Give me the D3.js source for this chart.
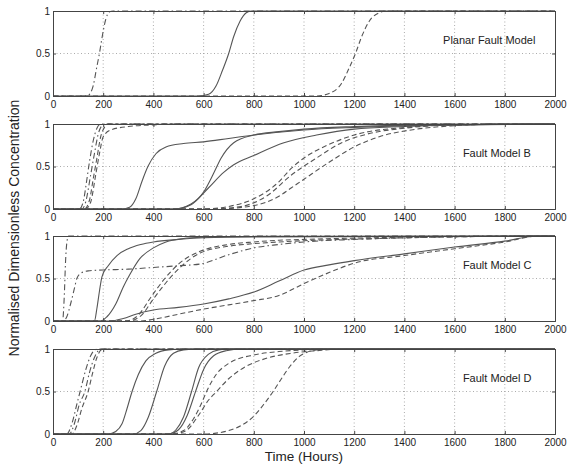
<!DOCTYPE html>
<html>
<head>
<meta charset="utf-8">
<script src="https://cdn.jsdelivr.net/npm/d3@7/dist/d3.min.js"></script>
<style>
  body { margin: 0; background: #fff; }
  svg { display: block; }
  text { font-family: "Liberation Sans", Arial, sans-serif; fill: #222; }
</style>
</head>
<body>
<div id="chart"></div>
<script>
// Axis ticks shared by all four panels
const xTicks = [0, 200, 400, 600, 800, 1000, 1200, 1400, 1600, 1800, 2000];
const yTicks = [0, 0.5, 1];
const panelTitles = ["Planar Fault Model", "Fault Model B", "Fault Model C", "Fault Model D"];

// Breakthrough curves: [time (hours), normalised concentration]
// Planar fault model
const planarDashDot = [[0,0],[120,0],[140,0.01],[160,0.12],[175,0.35],[185,0.5],[195,0.68],[210,0.9],[225,0.99],[240,1],[2000,1]];
const planarSolid   = [[0,0],[580,0],[620,0.02],[650,0.12],[675,0.3],[700,0.5],[720,0.7],[745,0.88],[770,0.98],[790,1],[2000,1]];
const planarDashed  = [[0,0],[1050,0],[1100,0.03],[1150,0.15],[1180,0.33],[1205,0.5],[1230,0.7],[1260,0.88],[1300,0.98],[1330,1],[2000,1]];

// Fault model B
const bDashDot1 = [[0,0],[105,0],[120,0.08],[135,0.35],[145,0.55],[160,0.8],[175,0.95],[190,1],[2000,1]];
const bDashDot2 = [[0,0],[115,0],[130,0.08],[150,0.4],[165,0.65],[180,0.88],[195,0.98],[210,1],[2000,1]];
const bDashed1  = [[0,0],[125,0],[145,0.1],[160,0.35],[175,0.6],[190,0.85],[205,0.96],[220,1],[2000,1]];
const bDashed2  = [[0,0],[130,0],[150,0.08],[170,0.4],[185,0.65],[200,0.85],[230,0.93],[300,0.97],[400,0.99],[500,1],[2000,1]];
const bSolid1   = [[0,0],[275,0],[305,0.02],[330,0.12],[355,0.33],[378,0.5],[410,0.65],[450,0.73],[520,0.77],[600,0.79],[700,0.83],[800,0.87],[1000,0.93],[1200,0.96],[1400,0.98],[1600,0.99],[2000,1]];
const bSolid2   = [[0,0],[480,0],[550,0.06],[600,0.2],[640,0.42],[670,0.6],[720,0.78],[800,0.87],[900,0.91],[1000,0.94],[1200,0.97],[1500,0.99],[2000,1]];
const bSolid3   = [[0,0],[480,0],[550,0.05],[620,0.25],[680,0.43],[720,0.52],[800,0.63],[920,0.78],[1050,0.87],[1200,0.94],[1400,0.97],[1600,0.99],[2000,1]];
const bDashed3  = [[0,0],[600,0],[700,0.03],[800,0.12],[900,0.32],[950,0.48],[1000,0.6],[1100,0.76],[1200,0.87],[1400,0.96],[1600,0.99],[2000,1]];
const bDashed4  = [[0,0],[620,0],[750,0.03],[850,0.15],[950,0.4],[1050,0.6],[1150,0.78],[1250,0.88],[1400,0.95],[1600,0.99],[2000,1]];
const bDashed5  = [[0,0],[650,0],[800,0.04],[900,0.15],[950,0.25],[1000,0.35],[1100,0.55],[1200,0.73],[1300,0.85],[1450,0.94],[1600,0.98],[1800,1],[2000,1]];

// Fault model C
const cDashDot1 = [[0,0],[38,0],[45,0.3],[50,0.7],[55,0.92],[62,1],[2000,1]];
const cDashDot2 = [[0,0],[40,0],[55,0.05],[70,0.2],[85,0.38],[95,0.5],[110,0.56],[140,0.59],[200,0.6],[300,0.61],[400,0.63],[500,0.65],[586,0.67],[700,0.78],[800,0.86],[900,0.9],[1000,0.93],[1200,0.96],[1400,0.98],[1600,0.99],[1900,1],[2000,1]];
const cSolid1   = [[0,0],[165,0],[175,0.15],[185,0.35],[195,0.52],[220,0.65],[255,0.77],[300,0.85],[350,0.9],[400,0.93],[500,0.96],[600,0.98],[800,0.99],[2000,1]];
const cSolid2   = [[0,0],[190,0],[215,0.05],[250,0.2],[280,0.4],[305,0.54],[345,0.73],[400,0.86],[450,0.93],[520,0.97],[600,0.985],[800,0.995],[2000,1]];
const cSolid3   = [[0,0],[230,0],[280,0.03],[330,0.08],[400,0.13],[500,0.16],[600,0.2],[700,0.26],[800,0.34],[900,0.47],[1000,0.6],[1100,0.66],[1200,0.71],[1400,0.79],[1600,0.87],[1800,0.94],[1930,1],[2000,1]];
const cDashed1  = [[0,0],[290,0],[340,0.07],[390,0.28],[440,0.48],[500,0.67],[586,0.82],[700,0.9],[800,0.93],[900,0.95],[1000,0.96],[1200,0.975],[1500,0.99],[2000,1]];
const cDashed2  = [[0,0],[300,0],[350,0.06],[400,0.26],[450,0.45],[510,0.64],[586,0.8],[700,0.88],[800,0.91],[900,0.93],[1000,0.945],[1300,0.97],[1600,0.99],[2000,1]];
const cDashed3  = [[0,0],[350,0],[400,0.02],[500,0.08],[600,0.14],[700,0.19],[800,0.24],[900,0.3],[1000,0.44],[1100,0.57],[1200,0.68],[1400,0.77],[1600,0.85],[1800,0.93],[1930,1],[2000,1]];

// Fault model D
const dDashDot1 = [[0,0],[55,0],[75,0.12],[95,0.35],[108,0.5],[130,0.75],[150,0.92],[167,0.99],[180,1],[2000,1]];
const dDashDot2 = [[0,0],[65,0],[85,0.12],[105,0.35],[127,0.5],[145,0.72],[165,0.9],[185,0.99],[200,1],[2000,1]];
const dDashed1  = [[0,0],[75,0],[95,0.1],[115,0.3],[140,0.5],[158,0.72],[175,0.9],[193,0.99],[210,1],[2000,1]];
const dSolid1   = [[0,0],[220,0],[250,0.03],[275,0.12],[295,0.3],[315,0.5],[340,0.7],[370,0.86],[410,0.95],[460,0.99],[520,1],[2000,1]];
const dSolid2   = [[0,0],[320,0],[350,0.04],[380,0.2],[413,0.5],[445,0.8],[480,0.95],[520,0.99],[580,1],[2000,1]];
const dSolid3   = [[0,0],[460,0],[490,0.05],[520,0.2],[552,0.5],[580,0.78],[620,0.94],[660,0.99],[700,1],[2000,1]];
const dSolid4   = [[0,0],[460,0],[500,0.05],[535,0.22],[568,0.5],[600,0.76],[640,0.92],[690,0.98],[750,1],[2000,1]];
const dDashed2  = [[0,0],[470,0],[520,0.04],[560,0.18],[590,0.35],[612,0.5],[650,0.7],[700,0.83],[800,0.93],[900,0.97],[1000,0.99],[1100,1],[2000,1]];
const dDashed3  = [[0,0],[480,0],[530,0.04],[580,0.22],[620,0.4],[652,0.5],[700,0.65],[760,0.78],[850,0.89],[950,0.95],[1050,0.98],[1150,1],[2000,1]];
const dDashed4  = [[0,0],[600,0],[650,0.01],[700,0.04],[750,0.1],[800,0.21],[840,0.35],[877,0.5],[910,0.65],[945,0.8],[980,0.91],[1010,0.96],[1050,0.99],[1100,1],[2000,1]];

// Line styles
const DASH = "5,3";
const DASHDOT = "6,3,1.5,3";

const panels = [
  { title: panelTitles[0], labelAt: 1554, series: [
    { d: planarDashDot, dash: DASHDOT }, { d: planarSolid, dash: null }, { d: planarDashed, dash: DASH } ] },
  { title: panelTitles[1], labelAt: 1633, series: [
    { d: bDashDot1, dash: DASHDOT }, { d: bDashDot2, dash: DASHDOT }, { d: bDashed1, dash: DASH }, { d: bDashed2, dash: DASH },
    { d: bSolid1, dash: null }, { d: bSolid2, dash: null }, { d: bSolid3, dash: null },
    { d: bDashed3, dash: DASH }, { d: bDashed4, dash: DASH }, { d: bDashed5, dash: DASH } ] },
  { title: panelTitles[2], labelAt: 1633, series: [
    { d: cDashDot1, dash: DASHDOT }, { d: cDashDot2, dash: DASHDOT },
    { d: cSolid1, dash: null }, { d: cSolid2, dash: null }, { d: cSolid3, dash: null },
    { d: cDashed1, dash: DASH }, { d: cDashed2, dash: DASH }, { d: cDashed3, dash: DASH } ] },
  { title: panelTitles[3], labelAt: 1633, series: [
    { d: dDashDot1, dash: DASHDOT }, { d: dDashDot2, dash: DASHDOT }, { d: dDashed1, dash: DASH },
    { d: dSolid1, dash: null }, { d: dSolid2, dash: null }, { d: dSolid3, dash: null }, { d: dSolid4, dash: null },
    { d: dDashed2, dash: DASH }, { d: dDashed3, dash: DASH }, { d: dDashed4, dash: DASH } ] }
];

const W = 569, H = 466;
const left = 53, right = 555;
const panelTops = [11, 124, 236, 349];
const panelH = 85;

const svg = d3.select("#chart").append("svg").attr("width", W).attr("height", H);

const x = d3.scaleLinear().domain([0, 2000]).range([left, right]);

const line = d3.line().curve(d3.curveMonotoneX);

panels.forEach((p, i) => {
  const top = panelTops[i];
  const y = d3.scaleLinear().domain([0, 1]).range([top + panelH, top]);
  const g = svg.append("g");

  // dotted grid
  g.append("g").selectAll("line").data(xTicks.slice(1, -1)).join("line")
    .attr("x1", d => x(d)).attr("x2", d => x(d))
    .attr("y1", top).attr("y2", top + panelH)
    .attr("stroke", "#888").attr("stroke-width", 0.7).attr("stroke-dasharray", "1,2.5");
  g.append("line")
    .attr("x1", left).attr("x2", right).attr("y1", y(0.5)).attr("y2", y(0.5))
    .attr("stroke", "#888").attr("stroke-width", 0.7).attr("stroke-dasharray", "1,2.5");

  // curves
  line.x(d => x(d[0])).y(d => y(d[1]));
  g.append("g").selectAll("path").data(p.series).join("path")
    .attr("d", s => line(s.d))
    .attr("fill", "none")
    .attr("stroke", "#555")
    .attr("stroke-width", 1.1)
    .attr("stroke-dasharray", s => s.dash);

  // axes with inward ticks on all sides
  const ax = g.append("g").attr("transform", `translate(0,${top + panelH})`)
    .call(d3.axisBottom(x).tickValues(xTicks).tickSize(-3).tickPadding(5).tickFormat(d3.format("d")));
  const axTop = g.append("g").attr("transform", `translate(0,${top})`)
    .call(d3.axisTop(x).tickValues(xTicks).tickSize(-3).tickFormat(""));
  const ay = g.append("g").attr("transform", `translate(${left},0)`)
    .call(d3.axisLeft(y).tickValues(yTicks).tickSize(-3).tickPadding(3).tickFormat(d => d === 0.5 ? "0.5" : d3.format("d")(d)));
  const ayR = g.append("g").attr("transform", `translate(${right},0)`)
    .call(d3.axisRight(y).tickValues(yTicks).tickSize(-3).tickFormat(""));
  [ax, axTop, ay, ayR].forEach(a => {
    a.selectAll(".domain").attr("stroke", "#444").attr("stroke-width", 1);
    a.selectAll(".tick line").attr("stroke", "#444");
    a.selectAll("text").attr("font-size", 10).attr("fill", "#222")
      .attr("font-family", "Liberation Sans, Arial, sans-serif");
  });

  // panel label
  g.append("text")
    .attr("x", x(p.labelAt)).attr("y", y(0.61))
    .attr("text-anchor", "start")
    .attr("font-size", 11)
    .text(p.title);
});

// axis titles
svg.append("text")
  .attr("x", (left + right) / 2).attr("y", 461)
  .attr("text-anchor", "middle").attr("font-size", 13.5)
  .text("Time (Hours)");
svg.append("text")
  .attr("transform", `translate(19,228) rotate(-90)`)
  .attr("text-anchor", "middle").attr("font-size", 14)
  .text("Normalised Dimensionless Concentration");
</script>
</body>
</html>
